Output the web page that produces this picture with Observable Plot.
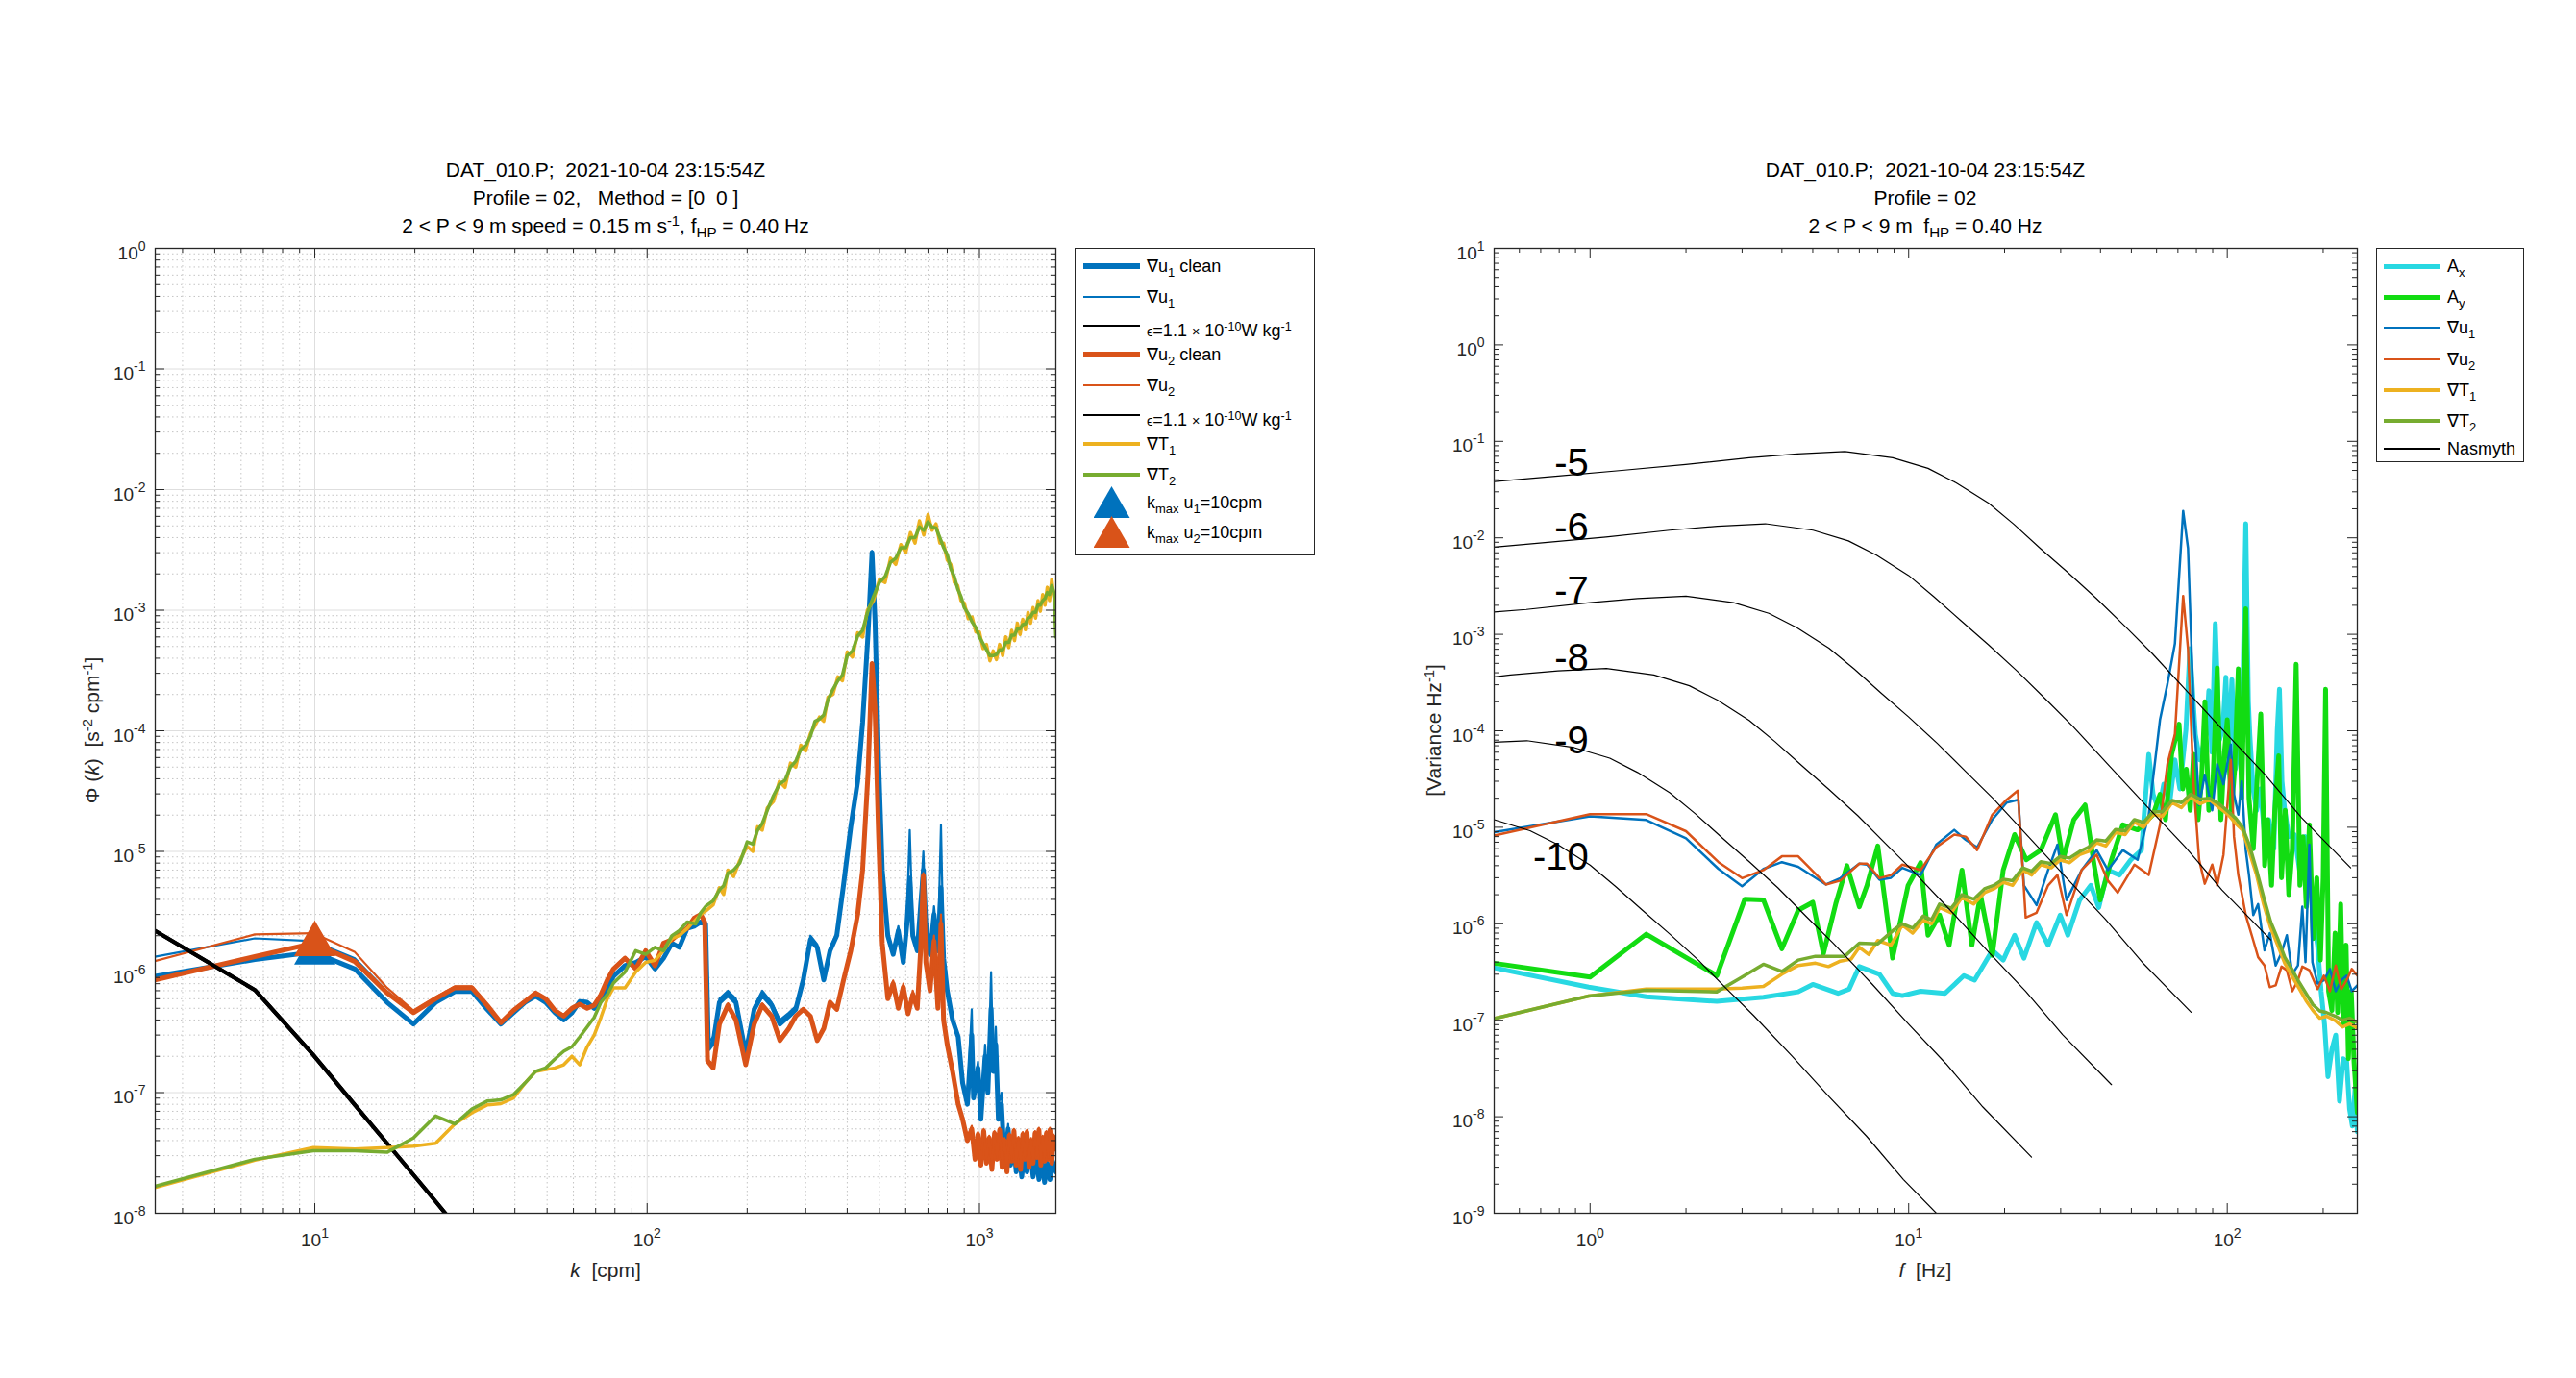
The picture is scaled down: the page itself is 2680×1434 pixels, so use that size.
<!DOCTYPE html>
<html><head><meta charset="utf-8">
<script src="https://cdn.jsdelivr.net/npm/d3@7"></script>
<script src="https://cdn.jsdelivr.net/npm/@observablehq/plot@0.6"></script>
<style>
body{margin:0;background:#fff;}
#page{position:relative;width:2680px;height:1434px;overflow:hidden;font-family:"Liberation Sans",Arial,Helvetica,sans-serif;color:#000;background:#fff;}
.abs{position:absolute;white-space:nowrap;}
.sup{position:relative;top:-0.45em;font-size:0.7em;}
.sub{position:relative;top:0.35em;font-size:0.72em;}
.sm{font-size:0.8em;}
</style></head>
<body><div id="page"></div>
<script>
// ---------------- LEFT PANEL DATA (k [cpm], Phi) ----------------
const kTicksL = [10, 100, 1000];
const kTickLabelsL = ["10^1", "10^2", "10^3"];
const phiTicksL = [1e-8, 1e-7, 1e-6, 1e-5, 1e-4, 1e-3, 1e-2, 1e-1, 1];
const phiTickLabelsL = ["10^-8", "10^-7", "10^-6", "10^-5", "10^-4", "10^-3", "10^-2", "10^-1", "10^0"];

const u1CleanL = [[3.3,9.2e-7],[6.6,1.27e-6],[9.9,1.46e-6],[13.2,1.06e-6],[16.5,5.6e-7],[19.8,3.7e-7],[23.1,5.6e-7],[26.4,6.9e-7],[29.7,6.9e-7],[33,4.9e-7],[36.3,3.7e-7],[39.6,4.6e-7],[42.9,5.6e-7],[46.2,6.3e-7],[49.5,5.6e-7],[52.8,4.6e-7],[56.1,4.0e-7],[59.4,4.6e-7],[62.7,5.7e-7],[66,5.6e-7],[69.3,5.0e-7],[72.6,6.0e-7],[75.9,7.4e-7],[79.2,9.2e-7],[85.8,1.13e-6],[92.4,1.2e-6],[99,1.34e-6],[105.6,1.06e-6],[112,1.3e-6],[118.8,1.73e-6],[125,1.6e-6],[132,2.3e-6],[138.6,2.4e-6],[145,2.6e-6],[150,2.5e-6],[153,2.3e-7],[158,2.6e-7],[165,5.6e-7],[175,6.5e-7],[185,5.6e-7],[198,2.1e-7],[210,4.9e-7],[222,6.5e-7],[237,5.3e-7],[251,3.7e-7],[267,4.3e-7],[280,4.9e-7],[295,8.6e-7],[310,1.85e-6],[325,1.6e-6],[340,8.6e-7],[355,1.5e-6],[372,2.0e-6],[390,5.3e-6],[410,1.6e-5],[430,3.8e-5],[445,1.17e-4],[462,6.3e-4],[475,3.0e-3],[485,8.3e-4],[497,5.8e-5],[510,7.0e-6],[530,2.0e-6],[550,1.4e-6],[570,2.2e-6],[590,1.2e-6],[605,2.5e-6],[617,6e-6],[630,2.0e-6],[650,1.5e-6],[665,3.5e-6],[678,7e-6],[690,2.5e-6],[710,1.4e-6],[730,3e-6],[750,1.5e-6],[766,5e-6],[780,1.3e-6],[800,7e-7],[830,4e-7],[863,2.9e-7],[890,1.2e-7],[920,8e-8],[948,3e-7],[960,9e-8],[990,1.6e-7],[1010,6e-8],[1040,2.0e-7],[1060,1.0e-7],[1084,5e-7],[1100,1.5e-7],[1120,2.5e-7],[1140,6e-8],[1165,8e-8],[1180,4e-8],[1200,3e-8],[1220,5e-8],[1240,2.5e-8],[1265,4e-8],[1290,2.2e-8],[1315,3.5e-8],[1340,2.0e-8],[1365,3.2e-8],[1390,2.2e-8],[1420,3.6e-8],[1450,2.0e-8],[1480,3.0e-8],[1510,1.9e-8],[1540,2.8e-8],[1570,1.8e-8],[1600,2.6e-8],[1630,1.9e-8],[1660,2.7e-8],[1698,2.2e-8]];

const u1RawL = [[3.3,1.34e-6],[6.6,1.9e-6],[9.9,1.8e-6],[13.2,1.3e-6],[16.5,6.9e-7],[19.8,4.6e-7],[23.1,5.8e-7],[26.4,7.0e-7],[29.7,7.1e-7],[33,5.0e-7],[36.3,3.8e-7],[39.6,4.7e-7],[42.9,5.7e-7],[46.2,6.4e-7],[49.5,5.7e-7],[52.8,4.7e-7],[56.1,4.1e-7],[59.4,4.7e-7],[62.7,5.8e-7],[66,5.7e-7],[69.3,5.1e-7],[72.6,6.1e-7],[75.9,7.5e-7],[79.2,9.4e-7],[85.8,1.15e-6],[92.4,1.22e-6],[99,1.36e-6],[105.6,1.08e-6],[112,1.32e-6],[118.8,1.76e-6],[125,1.62e-6],[132,2.3e-6],[138.6,2.45e-6],[145,2.65e-6],[150,2.55e-6],[153,2.6e-7],[158,2.9e-7],[165,6.0e-7],[175,7.0e-7],[185,6.0e-7],[198,2.3e-7],[210,5.2e-7],[222,7.0e-7],[237,5.6e-7],[251,4.0e-7],[267,4.6e-7],[280,5.2e-7],[295,9.0e-7],[310,2.0e-6],[325,1.7e-6],[340,9.0e-7],[355,1.6e-6],[372,2.1e-6],[390,5.6e-6],[410,1.7e-5],[430,4.0e-5],[445,1.2e-4],[462,6.6e-4],[475,3.1e-3],[485,8.8e-4],[497,6.0e-5],[510,7.4e-6],[530,2.1e-6],[550,1.5e-6],[570,2.4e-6],[590,1.3e-6],[605,3.0e-6],[617,1.5e-5],[630,2.2e-6],[650,1.6e-6],[665,4.0e-6],[678,1.0e-5],[690,2.7e-6],[710,1.5e-6],[730,3.5e-6],[750,1.6e-6],[766,1.66e-5],[780,1.4e-6],[800,7.5e-7],[830,4.2e-7],[863,3.0e-7],[890,1.3e-7],[920,9e-8],[948,4.9e-7],[960,1.0e-7],[990,1.8e-7],[1010,7e-8],[1040,2.5e-7],[1060,1.1e-7],[1084,1.0e-6],[1100,1.7e-7],[1120,3.5e-7],[1140,8e-8],[1165,1.0e-7],[1180,4.5e-8],[1200,3.2e-8],[1220,5.5e-8],[1240,2.6e-8],[1265,4.2e-8],[1290,2.3e-8],[1315,3.7e-8],[1340,2.1e-8],[1365,3.4e-8],[1390,2.3e-8],[1420,3.8e-8],[1450,2.1e-8],[1480,3.2e-8],[1510,2.0e-8],[1540,3.0e-8],[1570,1.9e-8],[1600,2.7e-8],[1630,2.0e-8],[1660,2.8e-8],[1698,2.3e-8]];

const u2CleanL = [[3.3,8.6e-7],[6.6,1.34e-6],[9.9,1.73e-6],[13.2,1.22e-6],[16.5,6.7e-7],[19.8,4.6e-7],[23.1,6.0e-7],[26.4,7.4e-7],[29.7,7.4e-7],[33,5.3e-7],[36.3,3.8e-7],[39.6,4.8e-7],[42.9,5.7e-7],[46.2,6.7e-7],[49.5,6.0e-7],[52.8,4.8e-7],[56.1,4.3e-7],[59.4,5.0e-7],[62.7,5.4e-7],[66,5.0e-7],[69.3,5.3e-7],[72.6,6.5e-7],[75.9,8.6e-7],[79.2,1.06e-6],[85.8,1.3e-6],[92.4,1.06e-6],[99,1.5e-6],[105.6,1.13e-6],[112,1.73e-6],[118.8,1.85e-6],[125,2.1e-6],[132,2.3e-6],[138.6,2.8e-6],[145,3.0e-6],[149,2.6e-6],[152,1.83e-7],[158,1.6e-7],[165,3.7e-7],[175,5.3e-7],[185,4.0e-7],[198,1.7e-7],[210,3.7e-7],[222,5.3e-7],[237,4.3e-7],[251,2.7e-7],[267,3.4e-7],[280,4.3e-7],[295,4.9e-7],[310,4.3e-7],[325,2.7e-7],[340,3.4e-7],[355,5.6e-7],[372,4.9e-7],[390,8.6e-7],[410,1.5e-6],[430,3.0e-6],[445,7.0e-6],[462,4.4e-5],[475,3.6e-4],[485,1.55e-4],[497,1.4e-5],[510,1.73e-6],[530,6e-7],[550,8e-7],[570,5e-7],[590,7.5e-7],[610,4.5e-7],[630,6.5e-7],[650,5e-7],[665,1.5e-6],[678,6.3e-6],[690,1.2e-6],[710,7e-7],[730,1.8e-6],[750,5e-7],[766,2.5e-6],[780,4e-7],[800,2.5e-7],[830,1.5e-7],[863,8e-8],[890,6e-8],[920,4e-8],[948,5e-8],[970,2.8e-8],[990,4.5e-8],[1010,2.5e-8],[1030,4.8e-8],[1050,2.6e-8],[1070,4.2e-8],[1090,2.3e-8],[1110,4.6e-8],[1130,2.8e-8],[1150,4.9e-8],[1170,2.4e-8],[1190,4.0e-8],[1210,2.2e-8],[1230,4.4e-8],[1250,2.7e-8],[1270,4.8e-8],[1290,2.5e-8],[1310,4.1e-8],[1330,2.3e-8],[1350,4.5e-8],[1370,2.8e-8],[1390,4.7e-8],[1410,2.4e-8],[1430,4.0e-8],[1450,2.6e-8],[1470,4.6e-8],[1490,2.9e-8],[1510,4.9e-8],[1530,2.5e-8],[1550,4.2e-8],[1570,2.7e-8],[1590,4.6e-8],[1610,2.8e-8],[1630,4.9e-8],[1650,2.6e-8],[1670,4.3e-8],[1698,3.4e-8]];

const u2RawL = [[3.3,1.23e-6],[6.6,2.05e-6],[9.9,2.1e-6],[13.2,1.46e-6],[16.5,7.4e-7],[19.8,4.8e-7],[23.1,6.2e-7],[26.4,7.6e-7],[29.7,7.6e-7],[33,5.4e-7],[36.3,3.9e-7],[39.6,4.9e-7],[42.9,5.8e-7],[46.2,6.8e-7],[49.5,6.1e-7],[52.8,4.9e-7],[56.1,4.4e-7],[59.4,5.1e-7],[62.7,5.5e-7],[66,5.1e-7],[69.3,5.4e-7],[72.6,6.6e-7],[75.9,8.8e-7],[79.2,1.08e-6],[85.8,1.33e-6],[92.4,1.08e-6],[99,1.53e-6],[105.6,1.15e-6],[112,1.76e-6],[118.8,1.9e-6],[125,2.15e-6],[132,2.35e-6],[138.6,2.85e-6],[145,3.05e-6],[149,2.65e-6],[152,1.9e-7],[158,1.7e-7],[165,3.8e-7],[175,5.5e-7],[185,4.1e-7],[198,1.8e-7],[210,3.8e-7],[222,5.5e-7],[237,4.4e-7],[251,2.8e-7],[267,3.5e-7],[280,4.4e-7],[295,5.0e-7],[310,4.4e-7],[325,2.8e-7],[340,3.5e-7],[355,5.8e-7],[372,5.0e-7],[390,9.0e-7],[410,1.6e-6],[430,3.1e-6],[445,7.3e-6],[462,4.6e-5],[475,3.7e-4],[485,1.6e-4],[497,1.5e-5],[510,1.8e-6],[530,6.3e-7],[550,8.5e-7],[570,5.3e-7],[590,8e-7],[610,4.7e-7],[630,7e-7],[650,5.3e-7],[665,1.7e-6],[678,6.6e-6],[690,1.3e-6],[710,7.5e-7],[730,2.0e-6],[750,5.3e-7],[766,3.0e-6],[780,4.3e-7],[800,2.7e-7],[830,1.6e-7],[863,8.5e-8],[890,6.3e-8],[920,4.2e-8],[948,5.3e-8],[970,3.0e-8],[990,4.7e-8],[1010,2.6e-8],[1030,5.0e-8],[1050,2.7e-8],[1070,4.4e-8],[1090,2.4e-8],[1110,4.8e-8],[1130,2.9e-8],[1150,5.1e-8],[1170,2.5e-8],[1190,4.2e-8],[1210,2.3e-8],[1230,4.6e-8],[1250,2.8e-8],[1270,5.0e-8],[1290,2.6e-8],[1310,4.3e-8],[1330,2.4e-8],[1350,4.7e-8],[1370,2.9e-8],[1390,4.9e-8],[1410,2.5e-8],[1430,4.2e-8],[1450,2.7e-8],[1470,4.8e-8],[1490,3.0e-8],[1510,5.1e-8],[1530,2.6e-8],[1550,4.4e-8],[1570,2.8e-8],[1590,4.8e-8],[1610,2.9e-8],[1630,5.1e-8],[1650,2.7e-8],[1670,4.5e-8],[1698,3.5e-8]];

const epsModelL = [[3.3,2.2e-6],[6.6,7.1e-7],[9.9,2.05e-7],[13.2,7.9e-8],[16.5,3.8e-8],[19.8,2.08e-8],[23.1,1.25e-8],[26.4,8.0e-9]];

const t1L = [[3.3,1.63e-8],[6.6,2.75e-8],[9.9,3.5e-8],[13.2,3.4e-8],[16.5,3.5e-8],[19.8,3.6e-8],[23.1,3.8e-8],[26.4,5.5e-8],[29.7,6.8e-8],[33,7.9e-8],[36.3,8.1e-8],[39.6,9.0e-8],[42.9,1.2e-7],[46.2,1.5e-7],[49.5,1.55e-7],[52.8,1.6e-7],[56.1,1.7e-7],[59.4,2.0e-7],[62.7,1.7e-7],[66,2.4e-7],[69.3,3.0e-7],[72.6,4.2e-7],[75.9,6.0e-7],[79.2,7.4e-7],[85.8,7.4e-7],[92.4,1.0e-6],[99,1.2e-6],[105.6,1.25e-6],[112,1.5e-6],[118.8,1.9e-6],[125,2.0e-6],[132,2.3e-6],[145,3.0e-6],[150,3.2e-6],[158,3.6e-6],[165,5.0e-6],[170,4.4e-6],[175,7.0e-6],[182,6.2e-6],[190,8.4e-6],[200,1.1e-5],[208,1.0e-5],[215,1.6e-5],[222,1.5e-5],[230,2.3e-5],[240,2.6e-5],[250,3.8e-5],[260,3.4e-5],[270,5.4e-5],[280,5.0e-5],[290,7.6e-5],[300,6.8e-5],[310,9.5e-5],[320,1.1e-4],[330,1.3e-4],[340,1.2e-4],[350,1.9e-4],[362,2.0e-4],[375,2.8e-4],[387,2.6e-4],[400,4.5e-4],[415,4.1e-4],[430,6.5e-4],[445,6.0e-4],[460,1.0e-3],[480,1.2e-3],[500,1.8e-3],[520,1.7e-3],[540,2.7e-3],[560,2.4e-3],[580,3.5e-3],[600,3.0e-3],[620,4.4e-3],[640,3.6e-3],[660,5.5e-3],[680,4.2e-3],[700,6.2e-3],[720,4.6e-3],[740,5.2e-3],[760,3.6e-3],[780,3.6e-3],[800,2.6e-3],[820,2.4e-3],[840,1.7e-3],[860,1.6e-3],[880,1.2e-3],[900,1.15e-3],[925,8.5e-4],[950,8.8e-4],[975,6.6e-4],[1000,6.6e-4],[1025,4.8e-4],[1050,5.2e-4],[1075,3.8e-4],[1100,4.6e-4],[1125,3.9e-4],[1150,5.2e-4],[1175,4.2e-4],[1200,6.0e-4],[1225,4.9e-4],[1250,6.8e-4],[1275,5.6e-4],[1300,7.8e-4],[1325,6.3e-4],[1350,8.4e-4],[1375,6.9e-4],[1400,9.6e-4],[1425,7.8e-4],[1450,1.05e-3],[1475,8.6e-4],[1500,1.2e-3],[1525,9.8e-4],[1550,1.35e-3],[1575,1.1e-3],[1600,1.55e-3],[1625,1.2e-3],[1650,1.8e-3],[1675,1.3e-3],[1698,1.0e-3]];

const t2L = [[3.3,1.67e-8],[6.6,2.8e-8],[9.9,3.3e-8],[13.2,3.3e-8],[16.5,3.2e-8],[19.8,4.2e-8],[23.1,6.4e-8],[26.4,5.5e-8],[29.7,7.3e-8],[33,8.5e-8],[36.3,8.7e-8],[39.6,9.6e-8],[42.9,1.2e-7],[46.2,1.5e-7],[49.5,1.6e-7],[52.8,1.9e-7],[56.1,2.2e-7],[59.4,2.4e-7],[62.7,2.9e-7],[66,3.5e-7],[69.3,4.2e-7],[72.6,5.6e-7],[75.9,6.5e-7],[79.2,8.1e-7],[85.8,1.0e-6],[92.4,1.5e-6],[99,1.4e-6],[105.6,1.6e-6],[112,1.5e-6],[118.8,2.0e-6],[125,2.2e-6],[132,2.6e-6],[140,2.5e-6],[145,3.1e-6],[150,3.5e-6],[158,3.9e-6],[165,4.8e-6],[170,5.2e-6],[175,6.6e-6],[182,7.0e-6],[190,8.0e-6],[200,1.2e-5],[208,1.15e-5],[215,1.5e-5],[222,1.7e-5],[230,2.2e-5],[240,2.9e-5],[250,3.6e-5],[260,3.9e-5],[270,5.0e-5],[280,5.6e-5],[290,7.0e-5],[300,7.6e-5],[310,9.0e-5],[320,1.2e-4],[330,1.25e-4],[340,1.35e-4],[350,1.8e-4],[362,2.2e-4],[375,2.6e-4],[387,2.9e-4],[400,4.2e-4],[415,4.6e-4],[430,6.1e-4],[445,6.8e-4],[460,9.5e-4],[480,1.3e-3],[500,1.7e-3],[520,1.9e-3],[540,2.5e-3],[560,2.7e-3],[580,3.3e-3],[600,3.3e-3],[620,4.0e-3],[640,4.0e-3],[660,4.9e-3],[680,4.6e-3],[700,5.4e-3],[720,4.9e-3],[740,4.8e-3],[760,4.0e-3],[780,3.3e-3],[800,2.9e-3],[820,2.2e-3],[840,1.9e-3],[860,1.5e-3],[880,1.3e-3],[900,1.05e-3],[925,9.4e-4],[950,8.0e-4],[975,7.2e-4],[1000,6.0e-4],[1025,5.3e-4],[1050,4.7e-4],[1075,4.2e-4],[1100,4.2e-4],[1125,4.3e-4],[1150,4.7e-4],[1175,4.7e-4],[1200,5.4e-4],[1225,5.4e-4],[1250,6.2e-4],[1275,6.2e-4],[1300,7.0e-4],[1325,7.0e-4],[1350,7.6e-4],[1375,7.7e-4],[1400,8.6e-4],[1425,8.8e-4],[1450,9.6e-4],[1475,9.6e-4],[1500,1.1e-3],[1525,1.1e-3],[1550,1.2e-3],[1575,1.25e-3],[1600,1.4e-3],[1625,1.35e-3],[1650,1.6e-3],[1675,1.4e-3],[1698,6.0e-4]];

const kmaxMarkers = [[10, 1.45e-6], [10, 1.7e-6]];

// ---------------- RIGHT PANEL DATA (f [Hz], variance) ----------------
const fTicksR = [1, 10, 100];
const fTickLabelsR = ["10^0", "10^1", "10^2"];
const varTicksR = [1e-9, 1e-8, 1e-7, 1e-6, 1e-5, 1e-4, 1e-3, 1e-2, 1e-1, 1, 10];
const varTickLabelsR = ["10^-9", "10^-8", "10^-7", "10^-6", "10^-5", "10^-4", "10^-3", "10^-2", "10^-1", "10^0", "10^1"];

const axR = [[0.5,3.5e-7],[0.99,2.2e-7],[1.5,1.75e-7],[2.5,1.57e-7],[3.5,1.73e-7],[4.5,1.97e-7],[5.0,2.35e-7],[6.0,1.9e-7],[6.5,2.1e-7],[7.0,3.6e-7],[8.1,3.0e-7],[8.9,1.9e-7],[9.55,1.8e-7],[10.9,2.0e-7],[13.0,1.9e-7],[14.9,2.9e-7],[16.1,2.6e-7],[18.3,5.3e-7],[19.8,4.2e-7],[21.5,7.6e-7],[23.0,4.4e-7],[25.2,1.03e-6],[27.4,6.0e-7],[29.9,1.23e-6],[31.6,7.6e-7],[34.4,1.76e-6],[37.3,2.5e-6],[39.5,1.47e-6],[42.2,3.6e-6],[45.9,3.2e-6],[49.8,4.6e-6],[53.8,5.8e-6],[56.7,5.7e-5],[58.5,2.2e-5],[61,1.5e-5],[63.2,2.8e-5],[66,1.8e-5],[68.5,5.0e-5],[71,2.5e-5],[74.2,1.04e-4],[76.3,7.1e-4],[79.4,9.2e-5],[82,5e-5],[85.9,9.2e-5],[87.5,2.6e-4],[89.5,6e-5],[91.7,1.29e-3],[94.5,8e-5],[96.8,1.04e-4],[99,3.6e-4],[101,6e-5],[103.4,3.4e-4],[106,4e-5],[109.1,7.2e-5],[112,3e-4],[114.3,1.4e-2],[116.5,2e-4],[117.7,9.2e-5],[120.5,2.5e-5],[123.6,1.5e-5],[127,2.5e-5],[130.9,8.4e-6],[135,1.2e-5],[140,6e-6],[143.5,1.0e-4],[145.8,2.7e-4],[148.5,3e-5],[151.5,1.5e-5],[156,8e-6],[162.5,8.4e-6],[170,3e-6],[176,8e-6],[181,3e-6],[186,1.2e-6],[192,6e-7],[197,2e-7],[202,9e-8],[207,2.6e-8],[213,5e-8],[219,7.0e-8],[225,1.45e-8],[231,4e-8],[237,3.7e-8],[242,1.2e-8],[247,8e-9],[252,2e-8],[256,7e-9]];

const ayR = [[0.5,3.9e-7],[1.0,2.8e-7],[1.5,7.8e-7],[2.5,2.9e-7],[3.06,1.8e-6],[3.5,1.77e-6],[4.0,5.5e-7],[4.5,1.38e-6],[5.0,1.67e-6],[5.4,4.9e-7],[5.9,1.6e-6],[6.4,4.0e-6],[7.0,1.5e-6],[7.4,2.5e-6],[8.0,6.4e-6],[8.9,4.4e-7],[9.96,2.5e-6],[10.9,4.3e-6],[11.5,7.6e-7],[12.5,1.23e-6],[13.4,6.0e-7],[14.7,3.6e-6],[15.8,6.0e-7],[16.8,2.0e-6],[18.3,4.7e-7],[19.8,3.6e-6],[21.5,8.4e-6],[23.4,4.6e-6],[26.0,5.8e-6],[28.9,1.35e-5],[30.5,4.6e-6],[33.0,1.2e-5],[35.8,1.7e-5],[38.2,4.1e-6],[39.9,1.76e-6],[43.3,4.6e-6],[47.0,1.06e-5],[52.3,9.4e-6],[58.5,1.35e-5],[61.5,2.2e-5],[64,1.2e-5],[66.9,5.7e-5],[70.6,1.17e-4],[72.5,2.5e-5],[74.4,4.0e-5],[76.5,1.5e-5],[78.4,5.7e-5],[81,1.2e-5],[83,3.0e-5],[85.1,2.0e-4],[87.5,1.5e-5],[90,2.5e-5],[93,4.5e-4],[95.5,1.2e-5],[98,6e-5],[100,1.3e-4],[103,1.5e-5],[105.5,4e-5],[108.3,4.4e-4],[111,2.0e-5],[114.3,1.84e-3],[117,2.0e-5],[120.7,6e-6],[124,3e-5],[127.4,1.49e-4],[131,4e-6],[134,1.2e-5],[137.7,2.5e-6],[141,1.5e-5],[145,5.5e-5],[148,3e-6],[152,1.5e-5],[156,2.0e-6],[160,6e-6],[164.5,4.9e-4],[169,2.5e-6],[173,8e-6],[177,1.5e-6],[181,1.06e-5],[186,7e-7],[191,3e-6],[196,4.2e-7],[200,3e-6],[203.5,2.7e-4],[208,2.0e-7],[213,1.26e-7],[218,8e-7],[222,1.2e-7],[227,1.6e-6],[231,9e-8],[236,6e-7],[240,4e-8],[245,2e-7],[250,3.7e-8],[256,1.1e-8]];

const u1R = [[0.5,8.9e-6],[1.0,1.3e-5],[1.5,1.19e-5],[2.0,7.7e-6],[2.53,3.7e-6],[3.0,2.45e-6],[3.5,3.7e-6],[4.0,4.35e-6],[4.5,3.9e-6],[5.5,2.55e-6],[6.1,2.97e-6],[7.0,4.2e-6],[7.4,4.1e-6],[8.1,2.86e-6],[8.8,3.0e-6],[9.55,3.8e-6],[10.9,3.2e-6],[12.2,6.6e-6],[13.9,9.4e-6],[15.1,7.4e-6],[16.4,6.2e-6],[18.3,1.2e-5],[20.3,1.8e-5],[22.1,1.93e-5],[23.0,2.5e-6],[25.2,1.56e-6],[27.4,3.6e-6],[29.3,6.6e-6],[31.3,1.76e-6],[34.9,3.6e-6],[38.9,5.8e-6],[42.2,3.6e-6],[47.0,5.8e-6],[52.3,4.6e-6],[56.7,1.35e-5],[61.5,1.3e-4],[64.9,3.05e-4],[68.5,8e-4],[72.7,1.9e-2],[75.3,7.8e-3],[78.4,1.67e-4],[81.6,1.7e-5],[85,3.5e-5],[89.7,1.5e-5],[93,4.5e-5],[97.3,2.8e-5],[102.6,7.2e-5],[105,2.2e-5],[108.3,1.35e-5],[111,3.0e-5],[114.3,5.8e-6],[117,3.2e-6],[120.7,1.23e-6],[125,1.6e-6],[130.9,5.3e-7],[136,8.0e-7],[141.9,3.7e-7],[148,5.0e-7],[153.8,7.6e-7],[160,3.0e-7],[166.7,3.7e-7],[172,1.5e-6],[176,4.0e-7],[181,6.6e-6],[185,4.0e-7],[192,2.4e-7],[201,2.6e-7],[210,3.4e-7],[219,2.0e-7],[228,2.6e-7],[237,2.9e-7],[246,2.0e-7],[256,2.3e-7]];

const u2R = [[0.5,8.2e-6],[1.0,1.37e-5],[1.5,1.37e-5],[2.0,9.1e-6],[2.53,4.35e-6],[3.0,2.97e-6],[3.5,3.6e-6],[4.0,5.0e-6],[4.5,5.0e-6],[5.5,2.55e-6],[6.1,2.8e-6],[7.0,4.2e-6],[7.4,4.2e-6],[8.1,2.97e-6],[8.8,3.2e-6],[9.55,4.1e-6],[10.9,3.6e-6],[12.2,6.2e-6],[13.9,8.4e-6],[15.1,8.0e-6],[16.4,5.8e-6],[18.3,1.35e-5],[20.3,1.93e-5],[22.0,2.4e-5],[23.3,1.16e-6],[25.2,1.3e-6],[27.4,2.5e-6],[29.3,3.2e-6],[31.3,1.23e-6],[34.9,3.6e-6],[38.9,5.2e-6],[42.2,2.8e-6],[45.3,2.1e-6],[51.1,4.1e-6],[56.7,3.2e-6],[61.5,1.06e-5],[64.9,4.5e-5],[68.5,9.2e-5],[72.7,2.5e-3],[75.3,7.1e-4],[78.4,2.8e-5],[81.6,4.6e-6],[85,2.6e-6],[89.7,4.1e-6],[93,2.5e-6],[97.3,5.2e-6],[102.6,5.0e-5],[105,8.0e-6],[108.3,3.2e-6],[114.3,1.23e-6],[120.7,6.7e-7],[125,4.5e-7],[130.9,3.7e-7],[136,2.2e-7],[141.9,2.3e-7],[148,3.6e-7],[153.8,3.3e-7],[160,2.0e-7],[166.7,2.6e-7],[172,3.6e-7],[181,3.3e-7],[192,2.1e-7],[201,2.9e-7],[210,2.0e-7],[219,3.7e-7],[228,2.1e-7],[237,2.6e-7],[246,3.4e-7],[256,2.9e-7]];

const t1R = [[0.5,1.04e-7],[0.99,1.78e-7],[1.5,2.1e-7],[2.5,2.1e-7],[3.0,2.15e-7],[3.5,2.24e-7],[4.0,3.0e-7],[4.5,3.7e-7],[5.1,3.9e-7],[5.6,3.6e-7],[6.1,4.1e-7],[6.6,4.3e-7],[7.0,5.7e-7],[7.5,4.8e-7],[8.0,6.7e-7],[8.8,6.0e-7],[9.55,9.7e-7],[10.3,8.0e-7],[11.1,1.09e-6],[11.8,1.0e-6],[12.5,1.47e-6],[13.6,1.3e-6],[14.7,1.87e-6],[16,1.6e-6],[17.3,2.1e-6],[18.5,2.3e-6],[19.8,2.7e-6],[21.2,2.5e-6],[22.8,3.6e-6],[24.3,3.2e-6],[26.0,4.1e-6],[28,3.8e-6],[29.9,4.6e-6],[32,4.3e-6],[34.4,5.2e-6],[36.6,5.6e-6],[38.9,6.9e-6],[41.6,6.4e-6],[44.6,8.9e-6],[47.8,8.4e-6],[51.1,1.13e-5],[54.6,1.0e-5],[58.5,1.35e-5],[62.6,1.3e-5],[67.1,1.8e-5],[71.8,1.6e-5],[76.8,2.06e-5],[82.2,1.75e-5],[88.0,1.93e-5],[94.2,1.6e-5],[100.8,1.35e-5],[106,1.1e-5],[111.6,9.4e-6],[117.4,5.5e-6],[123.6,3.2e-6],[130,1.6e-6],[136.8,9.1e-7],[144,6.0e-7],[151.5,3.9e-7],[159.4,2.9e-7],[167.8,2.16e-7],[176.6,1.6e-7],[185.7,1.26e-7],[195,1.05e-7],[205,1.1e-7],[218.5,9.9e-8],[230,8.5e-8],[242,9.2e-8],[256,8.3e-8]];

const t2R = [[0.5,1.04e-7],[0.99,1.78e-7],[1.5,2.05e-7],[2.5,1.97e-7],[3.0,2.8e-7],[3.5,3.8e-7],[4.0,3.2e-7],[4.5,4.2e-7],[5.1,4.6e-7],[6.3,4.6e-7],[7.0,6.3e-7],[8.0,6.2e-7],[9.0,8.7e-7],[9.55,1.0e-6],[10.3,9.0e-7],[11.1,1.2e-6],[11.8,1.1e-6],[12.5,1.6e-6],[13.6,1.45e-6],[14.7,2.0e-6],[16,1.8e-6],[17.3,2.3e-6],[18.5,2.5e-6],[19.8,2.9e-6],[21.2,2.8e-6],[22.8,3.8e-6],[24.3,3.5e-6],[26.0,4.4e-6],[28,4.2e-6],[29.9,5.0e-6],[32,4.8e-6],[34.4,5.6e-6],[36.6,6.2e-6],[38.9,7.4e-6],[41.6,7.2e-6],[44.6,9.5e-6],[47.8,9.2e-6],[51.1,1.2e-5],[54.6,1.12e-5],[58.5,1.45e-5],[62.6,1.45e-5],[67.1,1.9e-5],[71.8,1.8e-5],[76.8,2.2e-5],[82.2,1.95e-5],[88.0,2.0e-5],[94.2,1.75e-5],[100.8,1.45e-5],[106,1.25e-5],[111.6,1.0e-5],[117.4,6.5e-6],[123.6,3.6e-6],[130,1.9e-6],[136.8,1.05e-6],[144,7.0e-7],[151.5,4.5e-7],[159.4,3.4e-7],[167.8,2.5e-7],[176.6,1.9e-7],[185.7,1.45e-7],[195,1.25e-7],[205,1.2e-7],[218.5,1.1e-7],[230,1.0e-7],[242,1.05e-7],[256,9.5e-8]];

const nasmyth5 = [[0.5,3.84e-2],[0.794,4.37e-2],[1.259,5.0e-2],[1.995,5.75e-2],[3.16,6.76e-2],[4.47,7.41e-2],[6.31,7.85e-2],[8.91,6.76e-2],[11.5,5.25e-2],[14.1,3.72e-2],[17.8,2.29e-2],[21.4,1.38e-2],[25.9,7.76e-3],[31.6,4.37e-3],[38.9,2.34e-3],[47.9,1.2e-3],[58.2,6.3e-4],[76.2,2.4e-4],[100,9.1e-5],[131,3.55e-5],[171,1.26e-5],[244,3.8e-6]];
const nasmyth6 = [[0.5,8.0e-3],[0.708,8.9e-3],[1.122,1.02e-2],[1.778,1.2e-2],[2.51,1.32e-2],[3.55,1.4e-2],[5.01,1.2e-2],[6.47,9.3e-3],[7.93,6.6e-3],[10.0,4.07e-3],[12.0,2.45e-3],[14.6,1.38e-3],[17.8,7.8e-4],[21.9,4.16e-4],[26.9,2.13e-4],[32.7,1.12e-4],[42.8,4.27e-5],[56.2,1.62e-5],[73.7,6.3e-6],[96.2,2.24e-6],[137,6.8e-7]];
const nasmyth7 = [[0.5,1.7e-3],[0.631,1.81e-3],[1.0,2.13e-3],[1.41,2.35e-3],[2.0,2.49e-3],[2.82,2.13e-3],[3.64,1.65e-3],[4.46,1.17e-3],[5.62,7.2e-4],[6.75,4.36e-4],[8.21,2.45e-4],[10.0,1.39e-4],[12.3,7.4e-5],[15.1,3.79e-5],[18.4,1.99e-5],[24.1,7.6e-6],[31.6,2.88e-6],[41.4,1.12e-6],[54.1,3.98e-7],[77.0,1.21e-7]];
const nasmyth8 = [[0.5,3.63e-4],[0.562,3.79e-4],[0.793,4.18e-4],[1.125,4.43e-4],[1.586,3.79e-4],[2.05,2.93e-4],[2.51,2.08e-4],[3.16,1.28e-4],[3.80,7.75e-5],[4.62,4.36e-5],[5.62,2.47e-5],[6.92,1.32e-5],[8.49,6.7e-6],[10.3,3.54e-6],[13.6,1.35e-6],[17.8,5.1e-7],[23.3,1.99e-7],[30.4,7.1e-8],[43.3,2.15e-8]];
const nasmyth9 = [[0.5,7.6e-5],[0.633,7.9e-5],[0.892,6.7e-5],[1.153,5.2e-5],[1.41,3.7e-5],[1.78,2.28e-5],[2.14,1.38e-5],[2.60,7.75e-6],[3.16,4.39e-6],[3.89,2.35e-6],[4.77,1.19e-6],[5.79,6.3e-7],[7.65,2.4e-7],[10.0,9.1e-8],[13.1,3.54e-8],[17.1,1.26e-8],[24.3,3.82e-9]];
const nasmyth10 = [[0.5,1.2e-5],[0.648,9.2e-6],[0.793,6.6e-6],[1.0,4.05e-6],[1.2,2.45e-6],[1.46,1.38e-6],[1.78,7.8e-7],[2.19,4.18e-7],[2.68,2.12e-7],[3.26,1.12e-7],[4.30,4.27e-8],[5.62,1.62e-8],[7.37,6.3e-9],[9.62,2.24e-9],[13.7,6.8e-10]];

const nasmythLabels = ["-5", "-6", "-7", "-8", "-9", "-10"];
const nasmythLabelY = [5.85e-2, 1.27e-2, 2.77e-3, 5.6e-4, 7.9e-5, 4.9e-6];
const nasmythLabelF = 0.99;

// ---------------- COLOURS ----------------
const C = {blue:"#0072BD", orange:"#D95319", yellow:"#EDB120", green:"#77AC30", cyan:"#28D8E2", lime:"#12DC12", axis:"#262626"};

// ---------------- HELPERS ----------------
function decadeTicks(lo, hi) {
  const major = [], minor = [];
  for (let e = Math.floor(Math.log10(lo)) - 1; e <= Math.ceil(Math.log10(hi)); e++) {
    for (let m = 1; m < 10; m++) {
      const v = m * Math.pow(10, e);
      if (v >= lo * 0.9999 && v <= hi * 1.0001) (m === 1 ? major : minor).push(v);
    }
  }
  return {major, minor};
}
const line = (data, stroke, strokeWidth) => Plot.line(data, {x: d => d[0], y: d => d[1], stroke, strokeWidth, strokeLinejoin: "round", strokeLinecap: "round", clip: true});

function frameTicks(xd, yd, fw, fh) {
  const xt = decadeTicks(xd[0], xd[1]), yt = decadeTicks(yd[0], yd[1]);
  const c = C.axis;
  return [
    Plot.tickX(xt.major, {x: d => d, stroke: c, insetTop: fh - 10}),
    Plot.tickX(xt.major, {x: d => d, stroke: c, insetBottom: fh - 10}),
    Plot.tickX(xt.minor, {x: d => d, stroke: c, insetTop: fh - 5}),
    Plot.tickX(xt.minor, {x: d => d, stroke: c, insetBottom: fh - 5}),
    Plot.tickY(yt.major, {y: d => d, stroke: c, insetRight: fw - 10}),
    Plot.tickY(yt.major, {y: d => d, stroke: c, insetLeft: fw - 10}),
    Plot.tickY(yt.minor, {y: d => d, stroke: c, insetRight: fw - 5}),
    Plot.tickY(yt.minor, {y: d => d, stroke: c, insetLeft: fw - 5})
  ];
}
function gridMarks(xd, yd) {
  const xt = decadeTicks(xd[0], xd[1]), yt = decadeTicks(yd[0], yd[1]);
  return [
    Plot.ruleX(xt.minor, {x: d => d, stroke: "#c4c4c4", strokeDasharray: "1.5,3"}),
    Plot.ruleY(yt.minor, {y: d => d, stroke: "#c4c4c4", strokeDasharray: "1.5,3"}),
    Plot.ruleX(xt.major, {x: d => d, stroke: "#dedede"}),
    Plot.ruleY(yt.major, {y: d => d, stroke: "#dedede"})
  ];
}
function tickLabels(xv, xl, yv, yl) {
  return [
    Plot.text(xv, {x: d => d, text: (d, i) => xl[i], frameAnchor: "bottom", dy: 28, lineAnchor: "middle", fontSize: 19, fill: C.axis}),
    Plot.text(yv, {y: d => d, text: (d, i) => yl[i], frameAnchor: "left", dx: -10, dy: 5, textAnchor: "end", lineAnchor: "middle", fontSize: 19, fill: C.axis})
  ];
}
function supify(svg) {
  d3.select(svg).selectAll("text").each(function () {
    const t = this.textContent;
    if (!/^10\^/.test(t)) return;
    const [b, e] = t.split("^");
    const s = d3.select(this);
    s.text(null);
    s.append("tspan").text(b);
    s.append("tspan").attr("dy", -9).attr("font-size", 14).text(e);
  });
}
const style = {fontFamily: '"Liberation Sans", Arial, Helvetica, sans-serif', fontSize: "19px", background: "transparent", color: C.axis, overflow: "visible"};

// ---------------- LEFT PLOT ----------------
const xDomL = [3.31, 1698], yDomL = [1e-8, 1];
const left = Plot.plot({
  width: 1400, height: 1434, marginLeft: 161, marginRight: 302, marginTop: 258, marginBottom: 172,
  style,
  x: {type: "log", domain: xDomL, axis: null},
  y: {type: "log", domain: yDomL, axis: null},
  marks: [
    ...gridMarks(xDomL, yDomL),
    line(u1CleanL, C.blue, 5),
    line(u1RawL, C.blue, 2.2),
    line(epsModelL, "#000", 4),
    line(u2CleanL, C.orange, 5),
    line(u2RawL, C.orange, 2.2),
    line(epsModelL, "#000", 4),
    line(t1L, C.yellow, 3.5),
    line(t2L, C.green, 3.5),
    Plot.dot([kmaxMarkers[0]], {x: d => d[0], y: d => d[1], symbol: "triangle", r: 15, fill: C.blue, stroke: C.blue}),
    Plot.dot([kmaxMarkers[1]], {x: d => d[0], y: d => d[1], symbol: "triangle", r: 15, fill: C.orange, stroke: C.orange}),
    ...frameTicks(xDomL, yDomL, 937, 1004),
    Plot.frame({stroke: C.axis, strokeWidth: 1.3}),
    ...tickLabels(kTicksL, kTickLabelsL, phiTicksL, phiTickLabelsL)
  ]
});
supify(left);

// ---------------- RIGHT PLOT ----------------
const xDomR = [0.5, 256], yDomR = [1e-9, 10];
const right = Plot.plot({
  width: 1280, height: 1434, marginLeft: 154, marginRight: 228, marginTop: 258, marginBottom: 172,
  style,
  x: {type: "log", domain: xDomR, axis: null},
  y: {type: "log", domain: yDomR, axis: null},
  marks: [
    line(axR, C.cyan, 5),
    line(ayR, C.lime, 5),
    line(u1R, C.blue, 2.5),
    line(u2R, C.orange, 2.5),
    line(t1R, C.yellow, 3.5),
    line(t2R, C.green, 3.5),
    ...[nasmyth5, nasmyth6, nasmyth7, nasmyth8, nasmyth9, nasmyth10].map(d => line(d, "#000", 1.2)),
    Plot.text(nasmythLabels, {x: () => nasmythLabelF, y: (d, i) => nasmythLabelY[i], text: d => d, textAnchor: "end", lineAnchor: "middle", fontSize: 40, fill: "#000"}),
    ...frameTicks(xDomR, yDomR, 898, 1004),
    Plot.frame({stroke: C.axis, strokeWidth: 1.3}),
    ...tickLabels(fTicksR, fTickLabelsR, varTicksR, varTickLabelsR)
  ]
});
supify(right);

// ---------------- ASSEMBLE ----------------
const page = document.getElementById("page");
left.style.position = "absolute"; left.style.left = "0px"; left.style.top = "0px";
right.style.position = "absolute"; right.style.left = "1400px"; right.style.top = "0px";
page.append(left, right);

function addDiv(html, css) {
  const d = document.createElement("div");
  d.className = "abs";
  d.innerHTML = html;
  Object.assign(d.style, css);
  page.append(d);
  return d;
}
// titles
addDiv('DAT_010.P;&nbsp; 2021-10-04 23:15:54Z<br>Profile = 02,&nbsp;&nbsp; Method = [0&nbsp; 0 ]<br>2 &lt; P &lt; 9 m speed = 0.15 m s<span class="sup">-1</span>, f<span class="sub">HP</span> = 0.40 Hz',
  {left: "330px", width: "600px", top: "162px", textAlign: "center", fontSize: "21px", lineHeight: "29px"});
addDiv('DAT_010.P;&nbsp; 2021-10-04 23:15:54Z<br>Profile = 02<br>2 &lt; P &lt; 9 m&nbsp; f<span class="sub">HP</span> = 0.40 Hz',
  {left: "1703px", width: "600px", top: "162px", textAlign: "center", fontSize: "21px", lineHeight: "29px"});
// axis labels
addDiv('<i>k</i>&nbsp; [cpm]', {left: "330px", width: "600px", top: "1309px", textAlign: "center", fontSize: "21px", lineHeight: "26px", color: C.axis});
addDiv('<i>f</i>&nbsp; [Hz]', {left: "1703px", width: "600px", top: "1309px", textAlign: "center", fontSize: "21px", lineHeight: "26px", color: C.axis});
addDiv('&Phi; (<i>k</i>)&nbsp; [s<span class="sup">-2</span> cpm<span class="sup">-1</span>]', {left: "97px", top: "760px", fontSize: "21px", lineHeight: "26px", transform: "translate(-50%,-50%) rotate(-90deg)", color: C.axis});
addDiv('[Variance Hz<span class="sup">-1</span>]', {left: "1493px", top: "760px", fontSize: "21px", lineHeight: "26px", transform: "translate(-50%,-50%) rotate(-90deg)", color: C.axis});

// legends
function legend(box, sx0, sx1, tx, rows) {
  addDiv("", {left: box[0] + "px", top: box[1] + "px", width: (box[2] - box[0]) + "px", height: (box[3] - box[1]) + "px", border: "1.3px solid " + C.axis, background: "#fff", boxSizing: "border-box"});
  rows.forEach(r => {
    if (r.tri) {
      addDiv("", {left: (sx0 + (sx1 - sx0) / 2 - 19) + "px", top: (r.y - 19) + "px", width: "38px", height: "33px", background: r.color, clipPath: "polygon(50% 0, 0 100%, 100% 100%)"});
    } else {
      addDiv("", {left: sx0 + "px", top: (r.y - r.w / 2) + "px", width: (sx1 - sx0) + "px", height: r.w + "px", background: r.color});
    }
    addDiv(r.html, {left: tx + "px", top: (r.y - 12 + (r.dy || 0)) + "px", fontSize: "18px", lineHeight: "24px"});
  });
}
const epsTxt = '<span class="sm">&#x03F5;</span>=1.1 <span class="sm">&times;</span> 10<span class="sup">-10</span>W kg<span class="sup">-1</span>';
legend([1118, 258, 1368, 578], 1127, 1186, 1193, [
  {y: 277, color: C.blue, w: 6.5, html: '&nabla;u<span class="sub">1</span> clean'},
  {y: 309, color: C.blue, w: 2.7, html: '&nabla;u<span class="sub">1</span>'},
  {y: 339, color: "#000", w: 2.7, html: epsTxt, dy: 5},
  {y: 369, color: C.orange, w: 6.5, html: '&nabla;u<span class="sub">2</span> clean'},
  {y: 401, color: C.orange, w: 2.7, html: '&nabla;u<span class="sub">2</span>'},
  {y: 432, color: "#000", w: 2.7, html: epsTxt, dy: 5},
  {y: 462, color: C.yellow, w: 3.7, html: '&nabla;T<span class="sub">1</span>'},
  {y: 494, color: C.green, w: 3.7, html: '&nabla;T<span class="sub">2</span>'},
  {y: 525, color: C.blue, tri: true, html: 'k<span class="sub">max</span> u<span class="sub">1</span>=10cpm', dy: -2},
  {y: 556, color: C.orange, tri: true, html: 'k<span class="sub">max</span> u<span class="sub">2</span>=10cpm', dy: -2}
]);
legend([2472, 258, 2626, 481], 2480, 2539, 2546, [
  {y: 277, color: C.cyan, w: 5, html: 'A<span class="sub">x</span>'},
  {y: 309, color: C.lime, w: 5, html: 'A<span class="sub">y</span>'},
  {y: 341, color: C.blue, w: 2.5, html: '&nabla;u<span class="sub">1</span>'},
  {y: 374, color: C.orange, w: 2.5, html: '&nabla;u<span class="sub">2</span>'},
  {y: 406, color: C.yellow, w: 3.5, html: '&nabla;T<span class="sub">1</span>'},
  {y: 438, color: C.green, w: 3.5, html: '&nabla;T<span class="sub">2</span>'},
  {y: 467, color: "#000", w: 1.2, html: 'Nasmyth'}
]);
</script>
</body></html>
